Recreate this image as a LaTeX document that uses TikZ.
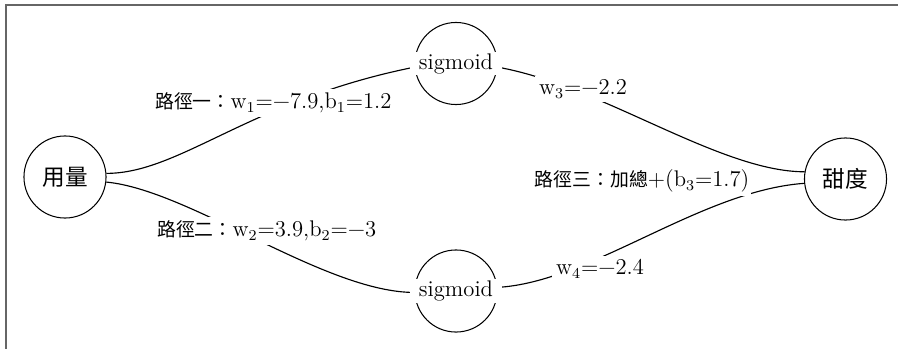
\documentclass[tikz,border=0pt]{standalone}
\usepackage{fontspec}
\newfontfamily\cjk{Noto Sans CJK TC}
\newcommand{\routename}[1]{{\cjk\fontsize{10}{12}\selectfont #1}}
\usetikzlibrary{positioning}

\begin{document}
\begin{tikzpicture}[
x=0.53pt, y=-0.53pt,
neuron/.style={draw, circle, line width=0.55pt, minimum size=43.5pt, inner sep=0pt, font=\cjk\fontsize{12}{14}\selectfont},
actfn/.style={fill=white, inner xsep=4.5pt, inner ysep=0.8pt, font=\fontsize{12}{14}\selectfont},
weight/.style={fill=white, inner sep=2pt, font=\fontsize{12}{14}\selectfont},
link/.style={line width=0.6pt},
frame/.style={line width=1.1pt, black!60}
]
\useasboundingbox (0,0) rectangle (898,349);
\draw[frame] (898,5) -- (6,5) -- (6,349);

\node[neuron] (dose) at (65,177) {用量};
\node[neuron] (sweet) at (845.5,179) {甜度};
\node[neuron] (sig1) at (456,63.5) {};
\node[neuron] (sig2) at (456,291) {};

% connectors
\draw[link] (dose.5) .. controls +(74,0) and +(-165,33) .. (sig1.185);
\draw[link] (dose.-7) .. controls +(84,8) and +(-90,0) .. (sig2.182);
\draw[link] (sig1.-5) .. controls +(103,18) and +(-85,0) .. (sweet.170);
\draw[link] (sig2.5) .. controls +(93,-5) and +(-104,7.4) .. (sweet.186);

\node[actfn] (act1) at (sig1) {sigmoid};
\node[actfn] (act2) at (sig2) {sigmoid};

% weights on the links
\node[weight, anchor=west] (w1) at (151,103) {\routename{路徑一：}w\textsubscript{1}=−7.9,b\textsubscript{1}=1.2};
\node[weight, anchor=west] (w2) at (153,231) {\routename{路徑二：}w\textsubscript{2}=3.9,b\textsubscript{2}=−3};
\node[weight] (w3) at (583,89) {w\textsubscript{3}=−2.2};
\node[weight] (w4) at (600,269) {w\textsubscript{4}=−2.4};
\node[weight, inner xsep=1pt] (bias) at (642,181) {\routename{路徑三：加總}+(b\textsubscript{3}=1.7)};
\end{tikzpicture}
\end{document}
